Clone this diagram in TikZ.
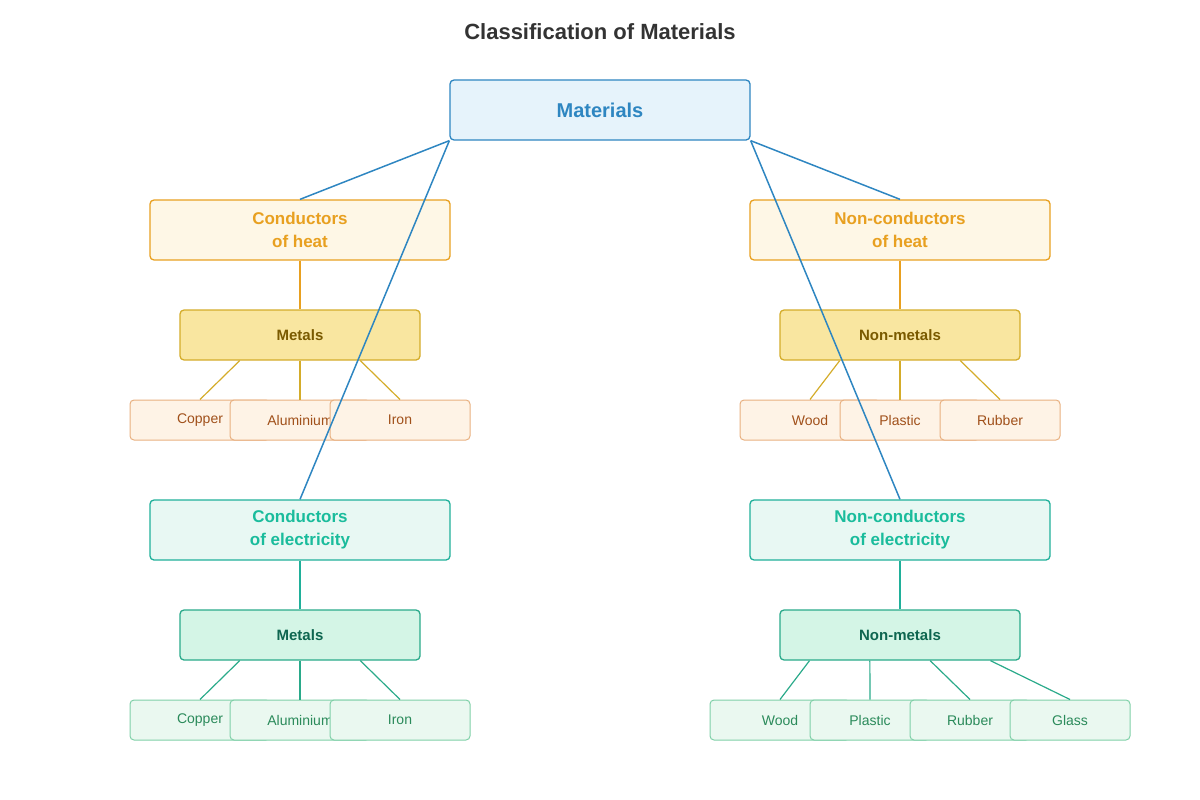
\documentclass[tikz,border=0pt]{standalone}
\usepackage{fontspec}
\setmainfont{Liberation Sans}
\usetikzlibrary{calc}
\definecolor{blu}{HTML}{2E86C1}
\definecolor{blufill}{HTML}{E6F3FB}
\definecolor{org}{HTML}{E8A020}
\definecolor{orgfill}{HTML}{FEF7E6}
\definecolor{gld}{HTML}{D4AC2A}
\definecolor{gldfill}{HTML}{F9E6A0}
\definecolor{gldtxt}{HTML}{7A5A00}
\definecolor{lfo}{HTML}{E8B080}
\definecolor{lfofill}{HTML}{FEF3E6}
\definecolor{lfotxt}{HTML}{A0501A}
\definecolor{tea}{HTML}{20B09A}
\definecolor{teafill}{HTML}{E8F8F3}
\definecolor{teatxt}{HTML}{1ABC9C}
\definecolor{grn}{HTML}{2AAA8A}
\definecolor{grnfill}{HTML}{D4F5E6}
\definecolor{grntxt}{HTML}{0E6650}
\definecolor{lfg}{HTML}{80D0A8}
\definecolor{lfgfill}{HTML}{EAF8F0}
\definecolor{lfgtxt}{HTML}{2A8A5A}
\begin{document}
\begin{tikzpicture}[x=1pt,y=-1pt,
 box/.style={draw,rounded corners=4pt,line width=1.3pt,inner sep=0pt,align=center},
 root/.style={box,draw=blu,fill=blufill,text=blu,minimum width=300pt,minimum height=60pt,font=\fontsize{20}{24}\selectfont\bfseries},
 heat/.style={box,draw=org,fill=orgfill,text=org,minimum width=300pt,minimum height=60pt,font=\fontsize{17}{23}\selectfont\bfseries},
 elec/.style={box,draw=tea,fill=teafill,text=teatxt,minimum width=300pt,minimum height=60pt,font=\fontsize{17}{23}\selectfont\bfseries},
 hgrp/.style={box,draw=gld,fill=gldfill,text=gldtxt,minimum width=240pt,minimum height=50pt,font=\fontsize{15}{18}\selectfont\bfseries},
 egrp/.style={box,draw=grn,fill=grnfill,text=grntxt,minimum width=240pt,minimum height=50pt,font=\fontsize{15}{18}\selectfont\bfseries},
 hleaf/.style={box,line width=1pt,draw=lfo,fill=lfofill,text=lfotxt,minimum height=40pt,font=\fontsize{14}{16}\selectfont},
 eleaf/.style={box,line width=1pt,draw=lfg,fill=lfgfill,text=lfgtxt,minimum height=40pt,font=\fontsize{14}{16}\selectfont},
 bl/.style={draw=blu,line width=1.5pt},
 ol/.style={draw=org,line width=1.5pt},
 gl/.style={draw=gld,line width=1.2pt},
 tl/.style={draw=tea,line width=1.5pt},
 ml/.style={draw=grn,line width=1.2pt}]
\useasboundingbox (0,0) rectangle (1200,800);
\node[font=\fontsize{22}{26}\selectfont\bfseries,text=black!80] (title) at (600,32) {Classification of Materials};
\node[root] (mat) at (600,110) {Materials};
\node[heat] (ch) at (300,230) {Conductors\\of heat};
\node[heat] (nh) at (900,230) {Non-conductors\\of heat};
\node[hgrp] (hm) at (300,335) {Metals};
\node[hgrp] (hn) at (900,335) {Non-metals};
\node[hleaf,minimum width=140pt] (h1) at (200,420) {Copper};
\node[hleaf,minimum width=140pt] (h2) at (300,420) {Aluminium};
\node[hleaf,minimum width=140pt] (h3) at (400,420) {Iron};
\node[hleaf,minimum width=140pt] (h4) at (810,420) {Wood};
\node[hleaf,minimum width=140pt] (h5) at (910,420) {};
\node[hleaf,minimum width=120pt] (h6) at (1000,420) {Rubber};
\node[font=\fontsize{14}{16}\selectfont,text=lfotxt] (h5t) at (900,420) {Plastic};
\node[elec] (ce) at (300,530) {Conductors\\of electricity};
\node[elec] (ne) at (900,530) {Non-conductors\\of electricity};
\node[egrp] (em) at (300,635) {Metals};
\node[egrp] (en) at (900,635) {Non-metals};
\node[eleaf,minimum width=140pt] (e1) at (200,720) {Copper};
\node[eleaf,minimum width=140pt] (e2) at (300,720) {Aluminium};
\node[eleaf,minimum width=140pt] (e3) at (400,720) {Iron};
\node[eleaf,minimum width=140pt] (e4) at (780,720) {Wood};
\node[eleaf,minimum width=120pt] (e5) at (870,720) {Plastic};
\node[eleaf,minimum width=120pt] (e6) at (970,720) {Rubber};
\node[eleaf,minimum width=120pt] (e7) at (1070,720) {Glass};
% connectors
\draw[ol] (ch.south) -- (hm.north);
\draw[ol] (nh.south) -- (hn.north);
\draw[gl] ($(hm.south west)!0.25!(hm.south east)$) -- (h1.north);
\draw[gl] (hm.south) -- (h2.north);
\draw[gl] ($(hm.south west)!0.75!(hm.south east)$) -- (h3.north);
\draw[gl] ($(hn.south west)!0.25!(hn.south east)$) -- (h4.north);
\draw[gl] (hn.south) -- (h5t.north |- h5.north);
\draw[gl] ($(hn.south west)!0.75!(hn.south east)$) -- (h6.north);
\draw[tl] (ce.south) -- (em.north);
\draw[tl] (ne.south) -- (en.north);
\draw[ml] ($(em.south west)!0.25!(em.south east)$) -- (e1.north);
\draw[ml] (em.south) -- (e2.north);
\draw[ml] ($(em.south west)!0.75!(em.south east)$) -- (e3.north);
\draw[ml] ($(en.south west)!0.125!(en.south east)$) -- (e4.north);
\draw[ml] ($(en.south west)!0.375!(en.south east)$) -- (e5.north);
\draw[ml] ($(en.south west)!0.625!(en.south east)$) -- (e6.north);
\draw[ml] ($(en.south west)!0.875!(en.south east)$) -- (e7.north);
\draw[bl] (mat.south west) -- (ch.north);
\draw[bl] (mat.south west) -- (ce.north);
\draw[bl] (mat.south east) -- (nh.north);
\draw[bl] (mat.south east) -- (ne.north);
\end{tikzpicture}
\end{document}
